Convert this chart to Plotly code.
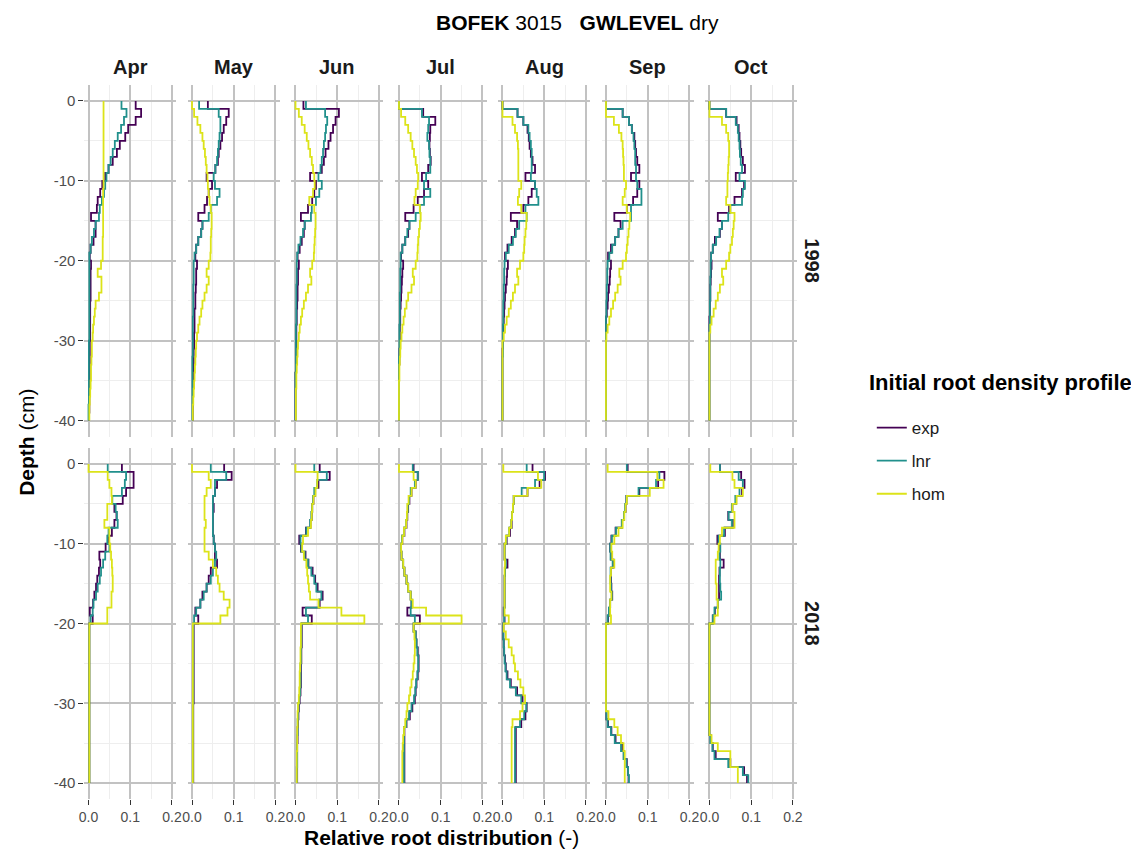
import plotly.graph_objects as go

MONTHS = ["Apr", "May", "Jun", "Jul", "Aug", "Sep", "Oct"]
YEARS = ["1998", "2018"]
PROFILES = ["exp", "lnr", "hom"]
PROFILE_COLORS = ["#440154", "#21908C", "#DCE319"]

# Layer boundaries (cm), 1-cm layers from surface down to -40 cm
DEPTH_EDGES = [0, -1, -2, -3, -4, -5, -6, -7, -8, -9, -10, -11, -12, -13, -14, -15, -16, -17, -18, -19, -20,
               -21, -22, -23, -24, -25, -26, -27, -28, -29, -30, -31, -32, -33, -34, -35, -36, -37, -38, -39, -40]

X_TICKS = [0.0, 0.1, 0.2]
X_TICKTEXT = ["0.0", "0.1", "0.2"]
Y_TICKS = [0, -10, -20, -30, -40]
Y_TICKTEXT = ["0", "-10", "-20", "-30", "-40"]

# ---------------- 1998 ----------------
APR_1998_EXP = [0.113, 0.126, 0.113, 0.095, 0.088, 0.075, 0.068, 0.058, 0.048, 0.040, 0.033, 0.028, 0.022, 0.020, 0.006, 0.017, 0.017, 0.012, 0.005, 0.003,
                0.006, 0.005, 0.005, 0.005, 0.005, 0.004, 0.004, 0.004, 0.004, 0.004, 0.003, 0.003, 0.003, 0.003, 0.003, 0.002, 0.002, 0.002, 0.002, 0.001]
APR_1998_LNR = [0.079, 0.091, 0.085, 0.078, 0.070, 0.063, 0.058, 0.053, 0.048, 0.043, 0.040, 0.037, 0.032, 0.027, 0.025, 0.017, 0.013, 0.008, 0.005, 0.002,
                0.002, 0.002, 0.002, 0.002, 0.002, 0.002, 0.002, 0.002, 0.002, 0.002, 0.001, 0.001, 0.001, 0.001, 0.001, 0.001, 0.001, 0.001, 0.000, 0.000]
APR_1998_HOM = [0.036, 0.036, 0.036, 0.036, 0.036, 0.036, 0.036, 0.036, 0.036, 0.036, 0.036, 0.035, 0.035, 0.035, 0.035, 0.035, 0.035, 0.034, 0.034, 0.034,
                0.030, 0.022, 0.031, 0.031, 0.025, 0.017, 0.015, 0.013, 0.011, 0.010, 0.008, 0.008, 0.007, 0.006, 0.006, 0.005, 0.004, 0.003, 0.002, 0.002]

MAY_1998_EXP = [0.038, 0.088, 0.082, 0.076, 0.072, 0.068, 0.064, 0.062, 0.056, 0.035, 0.048, 0.040, 0.036, 0.030, 0.015, 0.025, 0.022, 0.015, 0.010, 0.008,
                0.012, 0.010, 0.010, 0.009, 0.008, 0.008, 0.006, 0.006, 0.006, 0.005, 0.005, 0.004, 0.004, 0.003, 0.003, 0.002, 0.002, 0.002, 0.002, 0.002]
MAY_1998_LNR = [0.017, 0.064, 0.068, 0.068, 0.066, 0.064, 0.062, 0.060, 0.056, 0.052, 0.055, 0.066, 0.060, 0.045, 0.040, 0.025, 0.022, 0.015, 0.010, 0.006,
                0.004, 0.004, 0.004, 0.003, 0.003, 0.003, 0.003, 0.002, 0.002, 0.002, 0.002, 0.002, 0.001, 0.001, 0.001, 0.001, 0.001, 0.001, 0.001, 0.001]
MAY_1998_HOM = [0.000, 0.005, 0.013, 0.020, 0.025, 0.028, 0.031, 0.033, 0.035, 0.037, 0.038, 0.040, 0.042, 0.045, 0.047, 0.047, 0.046, 0.045, 0.045, 0.044,
                0.040, 0.035, 0.040, 0.035, 0.030, 0.025, 0.022, 0.018, 0.015, 0.012, 0.010, 0.009, 0.008, 0.007, 0.006, 0.005, 0.004, 0.003, 0.002, 0.002]

JUN_1998_EXP = [0.019, 0.104, 0.096, 0.090, 0.084, 0.079, 0.072, 0.068, 0.063, 0.035, 0.049, 0.045, 0.040, 0.030, 0.013, 0.022, 0.020, 0.015, 0.010, 0.005,
                0.008, 0.006, 0.006, 0.005, 0.005, 0.004, 0.003, 0.003, 0.002, 0.002, 0.002, 0.001, 0.001, 0.001, 0.000, 0.000, 0.000, 0.000, 0.000, 0.000]
JUN_1998_LNR = [0.025, 0.071, 0.076, 0.073, 0.071, 0.068, 0.066, 0.063, 0.060, 0.055, 0.063, 0.057, 0.049, 0.039, 0.037, 0.022, 0.018, 0.012, 0.007, 0.004,
                0.003, 0.003, 0.003, 0.002, 0.002, 0.002, 0.002, 0.002, 0.001, 0.001, 0.001, 0.001, 0.001, 0.001, 0.000, 0.000, 0.000, 0.000, 0.000, 0.000]
JUN_1998_HOM = [0.000, 0.008, 0.015, 0.022, 0.027, 0.031, 0.035, 0.039, 0.042, 0.045, 0.046, 0.042, 0.033, 0.045, 0.048, 0.048, 0.047, 0.046, 0.045, 0.044,
                0.040, 0.035, 0.038, 0.030, 0.025, 0.020, 0.016, 0.013, 0.010, 0.008, 0.006, 0.005, 0.004, 0.003, 0.002, 0.002, 0.001, 0.001, 0.001, 0.001]

JUL_1998_EXP = [0.000, 0.058, 0.087, 0.075, 0.074, 0.073, 0.074, 0.076, 0.070, 0.055, 0.070, 0.060, 0.045, 0.035, 0.015, 0.025, 0.022, 0.015, 0.008, 0.005,
                0.010, 0.008, 0.007, 0.006, 0.005, 0.004, 0.003, 0.003, 0.002, 0.002, 0.002, 0.001, 0.001, 0.000, 0.000, 0.000, 0.000, 0.000, 0.000, 0.000]
JUL_1998_LNR = [0.000, 0.055, 0.072, 0.070, 0.068, 0.072, 0.073, 0.075, 0.075, 0.065, 0.060, 0.075, 0.060, 0.050, 0.040, 0.025, 0.020, 0.015, 0.008, 0.004,
                0.004, 0.003, 0.003, 0.003, 0.002, 0.002, 0.002, 0.002, 0.001, 0.001, 0.001, 0.001, 0.000, 0.000, 0.000, 0.000, 0.000, 0.000, 0.000, 0.000]
JUL_1998_HOM = [0.000, 0.005, 0.015, 0.022, 0.028, 0.032, 0.036, 0.040, 0.043, 0.046, 0.045, 0.040, 0.037, 0.050, 0.052, 0.050, 0.048, 0.046, 0.045, 0.044,
                0.040, 0.033, 0.036, 0.030, 0.022, 0.018, 0.014, 0.011, 0.008, 0.006, 0.004, 0.003, 0.002, 0.001, 0.001, 0.000, 0.000, 0.000, 0.000, 0.000]

AUG_1998_EXP = [0.000, 0.036, 0.050, 0.060, 0.063, 0.065, 0.068, 0.072, 0.078, 0.055, 0.078, 0.070, 0.062, 0.050, 0.020, 0.035, 0.030, 0.022, 0.012, 0.006,
                0.013, 0.011, 0.010, 0.008, 0.006, 0.005, 0.004, 0.003, 0.002, 0.001, 0.001, 0.000, 0.000, 0.000, 0.000, 0.000, 0.000, 0.000, 0.000, 0.000]
AUG_1998_LNR = [0.000, 0.036, 0.050, 0.062, 0.065, 0.068, 0.070, 0.070, 0.070, 0.068, 0.078, 0.082, 0.086, 0.055, 0.058, 0.040, 0.032, 0.025, 0.015, 0.008,
                0.005, 0.004, 0.004, 0.003, 0.003, 0.002, 0.002, 0.002, 0.001, 0.001, 0.001, 0.001, 0.000, 0.000, 0.000, 0.000, 0.000, 0.000, 0.000, 0.000]
AUG_1998_HOM = [0.000, 0.000, 0.024, 0.030, 0.035, 0.037, 0.038, 0.038, 0.038, 0.038, 0.045, 0.040, 0.037, 0.045, 0.058, 0.057, 0.055, 0.053, 0.052, 0.050,
                0.042, 0.035, 0.038, 0.030, 0.025, 0.020, 0.015, 0.010, 0.006, 0.003, 0.000, 0.000, 0.000, 0.000, 0.000, 0.000, 0.000, 0.000, 0.000, 0.000]

SEP_1998_EXP = [0.000, 0.040, 0.055, 0.062, 0.068, 0.070, 0.072, 0.075, 0.080, 0.060, 0.080, 0.075, 0.065, 0.050, 0.020, 0.035, 0.030, 0.022, 0.012, 0.005,
                0.012, 0.010, 0.009, 0.007, 0.005, 0.004, 0.002, 0.000, 0.000, 0.000, 0.000, 0.000, 0.000, 0.000, 0.000, 0.000, 0.000, 0.000, 0.000, 0.000]
SEP_1998_LNR = [0.000, 0.040, 0.055, 0.062, 0.066, 0.068, 0.070, 0.070, 0.072, 0.072, 0.075, 0.085, 0.085, 0.060, 0.060, 0.040, 0.030, 0.022, 0.015, 0.008,
                0.004, 0.003, 0.003, 0.002, 0.002, 0.001, 0.001, 0.000, 0.000, 0.000, 0.000, 0.000, 0.000, 0.000, 0.000, 0.000, 0.000, 0.000, 0.000, 0.000]
SEP_1998_HOM = [0.000, 0.000, 0.019, 0.031, 0.037, 0.040, 0.041, 0.042, 0.043, 0.043, 0.048, 0.045, 0.040, 0.050, 0.058, 0.056, 0.054, 0.052, 0.050, 0.048,
                0.040, 0.032, 0.035, 0.028, 0.022, 0.017, 0.012, 0.008, 0.004, 0.001, 0.000, 0.000, 0.000, 0.000, 0.000, 0.000, 0.000, 0.000, 0.000, 0.000]

OCT_1998_EXP = [0.000, 0.040, 0.065, 0.070, 0.072, 0.074, 0.076, 0.080, 0.085, 0.063, 0.083, 0.078, 0.060, 0.047, 0.020, 0.030, 0.025, 0.013, 0.008, 0.004,
                0.005, 0.004, 0.003, 0.002, 0.002, 0.001, 0.001, 0.000, 0.000, 0.000, 0.000, 0.000, 0.000, 0.000, 0.000, 0.000, 0.000, 0.000, 0.000, 0.000]
OCT_1998_LNR = [0.000, 0.040, 0.063, 0.068, 0.070, 0.072, 0.073, 0.075, 0.078, 0.072, 0.085, 0.080, 0.078, 0.050, 0.045, 0.030, 0.024, 0.016, 0.008, 0.004,
                0.003, 0.003, 0.002, 0.002, 0.002, 0.001, 0.001, 0.001, 0.000, 0.000, 0.000, 0.000, 0.000, 0.000, 0.000, 0.000, 0.000, 0.000, 0.000, 0.000]
OCT_1998_HOM = [0.000, 0.000, 0.030, 0.040, 0.045, 0.047, 0.047, 0.046, 0.045, 0.044, 0.043, 0.043, 0.040, 0.050, 0.060, 0.058, 0.056, 0.054, 0.050, 0.047,
                0.040, 0.030, 0.033, 0.025, 0.020, 0.015, 0.010, 0.005, 0.002, 0.000, 0.000, 0.000, 0.000, 0.000, 0.000, 0.000, 0.000, 0.000, 0.000, 0.000]

# ---------------- 2018 ----------------
APR_2018_EXP = [0.080, 0.108, 0.108, 0.090, 0.082, 0.062, 0.067, 0.062, 0.056, 0.047, 0.041, 0.026, 0.028, 0.025, 0.021, 0.018, 0.014, 0.011, 0.003, 0.010,
                0.002, 0.002, 0.002, 0.002, 0.002, 0.002, 0.002, 0.002, 0.002, 0.002, 0.002, 0.002, 0.002, 0.002, 0.002, 0.002, 0.002, 0.002, 0.002, 0.002]
APR_2018_LNR = [0.046, 0.090, 0.087, 0.080, 0.057, 0.065, 0.068, 0.070, 0.048, 0.045, 0.050, 0.040, 0.035, 0.030, 0.027, 0.022, 0.018, 0.012, 0.010, 0.005,
                0.002, 0.002, 0.002, 0.002, 0.002, 0.002, 0.002, 0.002, 0.002, 0.002, 0.002, 0.002, 0.002, 0.002, 0.002, 0.002, 0.002, 0.002, 0.002, 0.002]
APR_2018_HOM = [0.000, 0.046, 0.050, 0.055, 0.056, 0.045, 0.045, 0.038, 0.050, 0.050, 0.052, 0.054, 0.056, 0.057, 0.058, 0.058, 0.055, 0.055, 0.045, 0.045,
                0.002, 0.002, 0.002, 0.002, 0.002, 0.002, 0.002, 0.002, 0.002, 0.002, 0.002, 0.002, 0.002, 0.002, 0.002, 0.002, 0.002, 0.002, 0.002, 0.002]

MAY_2018_EXP = [0.077, 0.095, 0.060, 0.055, 0.050, 0.052, 0.050, 0.050, 0.050, 0.052, 0.055, 0.055, 0.060, 0.045, 0.040, 0.035, 0.025, 0.020, 0.008, 0.015,
                0.004, 0.004, 0.004, 0.004, 0.004, 0.004, 0.004, 0.004, 0.004, 0.004, 0.003, 0.003, 0.003, 0.003, 0.003, 0.003, 0.003, 0.003, 0.003, 0.003]
MAY_2018_LNR = [0.045, 0.082, 0.055, 0.055, 0.050, 0.050, 0.050, 0.050, 0.050, 0.052, 0.055, 0.058, 0.055, 0.050, 0.045, 0.035, 0.028, 0.020, 0.010, 0.005,
                0.003, 0.003, 0.003, 0.003, 0.003, 0.003, 0.003, 0.003, 0.003, 0.003, 0.002, 0.002, 0.002, 0.002, 0.002, 0.002, 0.002, 0.002, 0.002, 0.002]
MAY_2018_HOM = [0.000, 0.040, 0.045, 0.035, 0.030, 0.030, 0.030, 0.033, 0.030, 0.030, 0.030, 0.040, 0.050, 0.058, 0.062, 0.066, 0.076, 0.090, 0.085, 0.068,
                0.002, 0.002, 0.002, 0.002, 0.002, 0.002, 0.002, 0.002, 0.002, 0.002, 0.002, 0.002, 0.002, 0.002, 0.002, 0.002, 0.002, 0.002, 0.002, 0.002]

JUN_2018_EXP = [0.058, 0.082, 0.055, 0.047, 0.043, 0.040, 0.039, 0.036, 0.025, 0.009, 0.013, 0.024, 0.031, 0.041, 0.047, 0.053, 0.065, 0.058, 0.017, 0.039,
                0.015, 0.015, 0.015, 0.014, 0.014, 0.013, 0.013, 0.013, 0.012, 0.010, 0.008, 0.007, 0.006, 0.005, 0.005, 0.004, 0.004, 0.004, 0.004, 0.004]
JUN_2018_LNR = [0.045, 0.075, 0.052, 0.045, 0.042, 0.040, 0.038, 0.035, 0.026, 0.012, 0.014, 0.022, 0.030, 0.038, 0.045, 0.050, 0.062, 0.056, 0.025, 0.030,
                0.014, 0.014, 0.014, 0.013, 0.013, 0.012, 0.012, 0.012, 0.011, 0.009, 0.007, 0.006, 0.005, 0.005, 0.004, 0.004, 0.004, 0.004, 0.003, 0.003]
JUN_2018_HOM = [0.000, 0.053, 0.052, 0.048, 0.043, 0.040, 0.039, 0.037, 0.030, 0.018, 0.016, 0.020, 0.026, 0.028, 0.030, 0.032, 0.035, 0.055, 0.110, 0.165,
                0.013, 0.013, 0.013, 0.012, 0.012, 0.011, 0.010, 0.010, 0.009, 0.008, 0.006, 0.005, 0.005, 0.004, 0.004, 0.004, 0.003, 0.003, 0.003, 0.003]

JUL_2018_EXP = [0.035, 0.045, 0.040, 0.030, 0.025, 0.022, 0.020, 0.018, 0.013, 0.008, 0.005, 0.006, 0.010, 0.013, 0.018, 0.022, 0.028, 0.030, 0.020, 0.050,
                0.035, 0.040, 0.042, 0.045, 0.047, 0.047, 0.045, 0.042, 0.040, 0.038, 0.032, 0.026, 0.018, 0.013, 0.013, 0.013, 0.013, 0.013, 0.013, 0.013]
JUL_2018_LNR = [0.033, 0.045, 0.038, 0.028, 0.024, 0.021, 0.019, 0.017, 0.012, 0.007, 0.005, 0.006, 0.010, 0.013, 0.018, 0.022, 0.028, 0.030, 0.028, 0.038,
                0.035, 0.040, 0.042, 0.044, 0.046, 0.046, 0.044, 0.041, 0.039, 0.036, 0.030, 0.024, 0.017, 0.012, 0.012, 0.012, 0.012, 0.012, 0.012, 0.012]
JUL_2018_HOM = [0.000, 0.035, 0.040, 0.030, 0.023, 0.020, 0.019, 0.017, 0.012, 0.008, 0.005, 0.006, 0.010, 0.013, 0.018, 0.022, 0.028, 0.033, 0.065, 0.150,
                0.035, 0.037, 0.038, 0.038, 0.037, 0.035, 0.033, 0.030, 0.027, 0.024, 0.020, 0.018, 0.015, 0.012, 0.010, 0.009, 0.008, 0.008, 0.008, 0.008]

AUG_2018_EXP = [0.072, 0.102, 0.089, 0.060, 0.027, 0.025, 0.023, 0.022, 0.018, 0.010, 0.005, 0.005, 0.012, 0.006, 0.005, 0.005, 0.005, 0.005, 0.003, 0.005,
                0.002, 0.002, 0.003, 0.004, 0.006, 0.008, 0.012, 0.020, 0.035, 0.048, 0.058, 0.055, 0.045, 0.032, 0.032, 0.032, 0.032, 0.032, 0.032, 0.032]
AUG_2018_LNR = [0.058, 0.100, 0.078, 0.046, 0.027, 0.025, 0.023, 0.021, 0.016, 0.009, 0.005, 0.005, 0.008, 0.006, 0.005, 0.005, 0.005, 0.005, 0.004, 0.004,
                0.002, 0.002, 0.003, 0.004, 0.005, 0.007, 0.010, 0.018, 0.032, 0.045, 0.057, 0.052, 0.042, 0.030, 0.030, 0.030, 0.030, 0.030, 0.030, 0.030]
AUG_2018_HOM = [0.002, 0.085, 0.093, 0.060, 0.027, 0.025, 0.023, 0.021, 0.016, 0.008, 0.005, 0.005, 0.006, 0.005, 0.005, 0.005, 0.005, 0.005, 0.005, 0.015,
                0.003, 0.008, 0.015, 0.022, 0.027, 0.030, 0.037, 0.043, 0.050, 0.054, 0.048, 0.042, 0.024, 0.022, 0.022, 0.022, 0.022, 0.022, 0.022, 0.022]

SEP_2018_EXP = [0.052, 0.140, 0.125, 0.080, 0.049, 0.047, 0.043, 0.038, 0.023, 0.013, 0.010, 0.012, 0.018, 0.012, 0.012, 0.013, 0.015, 0.010, 0.008, 0.005,
                0.000, 0.000, 0.000, 0.000, 0.000, 0.000, 0.000, 0.000, 0.000, 0.000, 0.000, 0.001, 0.005, 0.013, 0.023, 0.039, 0.043, 0.050, 0.053, 0.054]
SEP_2018_LNR = [0.050, 0.128, 0.120, 0.078, 0.049, 0.046, 0.043, 0.038, 0.024, 0.014, 0.010, 0.011, 0.016, 0.011, 0.011, 0.012, 0.014, 0.010, 0.007, 0.004,
                0.000, 0.000, 0.000, 0.000, 0.000, 0.000, 0.000, 0.000, 0.000, 0.000, 0.000, 0.001, 0.004, 0.012, 0.021, 0.036, 0.042, 0.049, 0.053, 0.055]
SEP_2018_HOM = [0.004, 0.123, 0.138, 0.105, 0.050, 0.047, 0.044, 0.040, 0.030, 0.020, 0.013, 0.015, 0.020, 0.012, 0.010, 0.010, 0.013, 0.010, 0.010, 0.012,
                0.000, 0.000, 0.000, 0.000, 0.000, 0.000, 0.000, 0.000, 0.000, 0.000, 0.000, 0.006, 0.020, 0.028, 0.036, 0.042, 0.045, 0.045, 0.045, 0.045]

OCT_2018_EXP = [0.025, 0.076, 0.084, 0.078, 0.064, 0.055, 0.045, 0.056, 0.037, 0.019, 0.025, 0.025, 0.034, 0.024, 0.023, 0.023, 0.023, 0.020, 0.013, 0.008,
                0.000, 0.000, 0.000, 0.000, 0.000, 0.000, 0.000, 0.000, 0.000, 0.000, 0.000, 0.000, 0.000, 0.000, 0.003, 0.008, 0.015, 0.050, 0.083, 0.090]
OCT_2018_LNR = [0.025, 0.070, 0.080, 0.072, 0.062, 0.054, 0.046, 0.054, 0.035, 0.022, 0.026, 0.024, 0.026, 0.025, 0.025, 0.026, 0.028, 0.020, 0.012, 0.008,
                0.000, 0.000, 0.000, 0.000, 0.000, 0.000, 0.000, 0.000, 0.000, 0.000, 0.000, 0.000, 0.000, 0.000, 0.002, 0.007, 0.012, 0.045, 0.080, 0.093]
OCT_2018_HOM = [0.002, 0.055, 0.060, 0.080, 0.065, 0.055, 0.060, 0.060, 0.030, 0.025, 0.022, 0.020, 0.015, 0.015, 0.015, 0.017, 0.017, 0.020, 0.020, 0.012,
                0.000, 0.000, 0.000, 0.000, 0.000, 0.000, 0.000, 0.000, 0.000, 0.000, 0.000, 0.000, 0.000, 0.000, 0.005, 0.020, 0.050, 0.050, 0.068, 0.068]

PANEL_DATA = {
    ("Apr", "1998"): [APR_1998_EXP, APR_1998_LNR, APR_1998_HOM],
    ("May", "1998"): [MAY_1998_EXP, MAY_1998_LNR, MAY_1998_HOM],
    ("Jun", "1998"): [JUN_1998_EXP, JUN_1998_LNR, JUN_1998_HOM],
    ("Jul", "1998"): [JUL_1998_EXP, JUL_1998_LNR, JUL_1998_HOM],
    ("Aug", "1998"): [AUG_1998_EXP, AUG_1998_LNR, AUG_1998_HOM],
    ("Sep", "1998"): [SEP_1998_EXP, SEP_1998_LNR, SEP_1998_HOM],
    ("Oct", "1998"): [OCT_1998_EXP, OCT_1998_LNR, OCT_1998_HOM],
    ("Apr", "2018"): [APR_2018_EXP, APR_2018_LNR, APR_2018_HOM],
    ("May", "2018"): [MAY_2018_EXP, MAY_2018_LNR, MAY_2018_HOM],
    ("Jun", "2018"): [JUN_2018_EXP, JUN_2018_LNR, JUN_2018_HOM],
    ("Jul", "2018"): [JUL_2018_EXP, JUL_2018_LNR, JUL_2018_HOM],
    ("Aug", "2018"): [AUG_2018_EXP, AUG_2018_LNR, AUG_2018_HOM],
    ("Sep", "2018"): [SEP_2018_EXP, SEP_2018_LNR, SEP_2018_HOM],
    ("Oct", "2018"): [OCT_2018_EXP, OCT_2018_LNR, OCT_2018_HOM],
}

# ---------------- layout geometry (page pixels) ----------------
BODY = 8                      # default page margin around the plot div
W, H = 1139 - BODY, 849 - BODY
PANEL_LEFT0 = 79.1
PANEL_STEP = 104.6
PANEL_W = 92.8
ROW_TOPS = [85.0, 448.0]
ROW_BOTS = [436.5, 799.0]

FONT = "Liberation Sans, Arial, sans-serif"
GRID_MAJOR = "#C2C2C2"
GRID_MINOR = "#EEEEEE"


def px_x(p):
    return (p - BODY) / W


def px_y(p):
    return 1 - (p - BODY) / H


fig = go.Figure()
layout_axes = {}

for r, year in enumerate(YEARS):
    for c, month in enumerate(MONTHS):
        idx = r * len(MONTHS) + c + 1
        xname = "x" if idx == 1 else f"x{idx}"
        yname = "y" if idx == 1 else f"y{idx}"
        series = PANEL_DATA[(month, year)]
        for k, prof in enumerate(PROFILES):
            vals = series[k]
            fig.add_trace(go.Scatter(
                x=vals + [vals[-1]], y=DEPTH_EDGES,
                mode="lines",
                line=dict(color=PROFILE_COLORS[k], width=1.8, shape="vh"),
                name=prof, legendgroup=prof, showlegend=(idx == 1),
                xaxis=xname, yaxis=yname, hoverinfo="skip",
            ))
        left = PANEL_LEFT0 + c * PANEL_STEP
        layout_axes[f"xaxis{idx}"] = dict(
            domain=[px_x(left), px_x(left + PANEL_W)],
            anchor=yname, range=[-0.01, 0.21],
            tickvals=X_TICKS, ticktext=X_TICKTEXT,
            showticklabels=(r == 1),
            ticks="outside" if r == 1 else "", ticklen=5, tickwidth=1.2, tickcolor="#333333",
            showgrid=True, gridcolor=GRID_MAJOR, gridwidth=1.5,
            minor=dict(tickvals=[0.05, 0.15], showgrid=True, gridcolor=GRID_MINOR, gridwidth=0.8),
            zeroline=False, showline=False,
            tickfont=dict(family=FONT, size=14, color="#4D4D4D"),
        )
        layout_axes[f"yaxis{idx}"] = dict(
            domain=[px_y(ROW_BOTS[r]), px_y(ROW_TOPS[r])],
            anchor=xname, range=[-42, 2],
            tickvals=Y_TICKS, ticktext=Y_TICKTEXT,
            showticklabels=(c == 0),
            ticks="outside" if c == 0 else "", ticklen=5, tickwidth=1.2, tickcolor="#333333",
            showgrid=True, gridcolor=GRID_MAJOR, gridwidth=1.5,
            minor=dict(tickvals=[-5, -15, -25, -35], showgrid=True, gridcolor=GRID_MINOR, gridwidth=0.8),
            zeroline=False, showline=False,
            tickfont=dict(family=FONT, size=15, color="#4D4D4D"),
        )

layout_axes["xaxis"] = layout_axes.pop("xaxis1")
layout_axes["yaxis"] = layout_axes.pop("yaxis1")


def label(x, y, text, size, angle=0, color="#1A1A1A", xanchor="center"):
    return dict(x=px_x(x), y=px_y(y), xref="paper", yref="paper", text=text,
                showarrow=False, textangle=angle, xanchor=xanchor, yanchor="middle",
                font=dict(family=FONT, size=size, color=color))


annotations = []
for c, month in enumerate(MONTHS):
    cx = PANEL_LEFT0 + c * PANEL_STEP + PANEL_W / 2
    annotations.append(label(cx, 67, f"<b>{month}</b>", 20))
for r, year in enumerate(YEARS):
    cy = (ROW_TOPS[r] + ROW_BOTS[r]) / 2
    annotations.append(label(815, cy, f"<b>{year}</b>", 20, angle=90))
annotations.append(label(578, 22, "<b>BOFEK</b> 3015\u00a0\u00a0\u00a0<b>GWLEVEL</b> dry", 21, color="#000000"))
annotations.append(label(440, 837, "<b>Relative root distribution</b> (-)", 21, color="#000000"))
annotations.append(label(20, 442, "<b>Depth</b> (cm)", 21, angle=-90, color="#000000"))
# legend title
annotations.append(label(870, 383, "<b>Initial root density profile</b>", 22, color="#000000", xanchor="left"))

fig.update_layout(
    width=W, height=H,
    margin=dict(l=0, r=0, t=0, b=0),
    paper_bgcolor="white", plot_bgcolor="white",
    font=dict(family=FONT, color="#000000"),
    annotations=annotations,
    legend=dict(
        x=px_x(875), y=px_y(410), xanchor="left", yanchor="top",
        font=dict(family=FONT, size=17, color="#1A1A1A"),
        tracegroupgap=8, bgcolor="rgba(0,0,0,0)",
    ),
    **layout_axes,
)

fig.write_html("out.html")
